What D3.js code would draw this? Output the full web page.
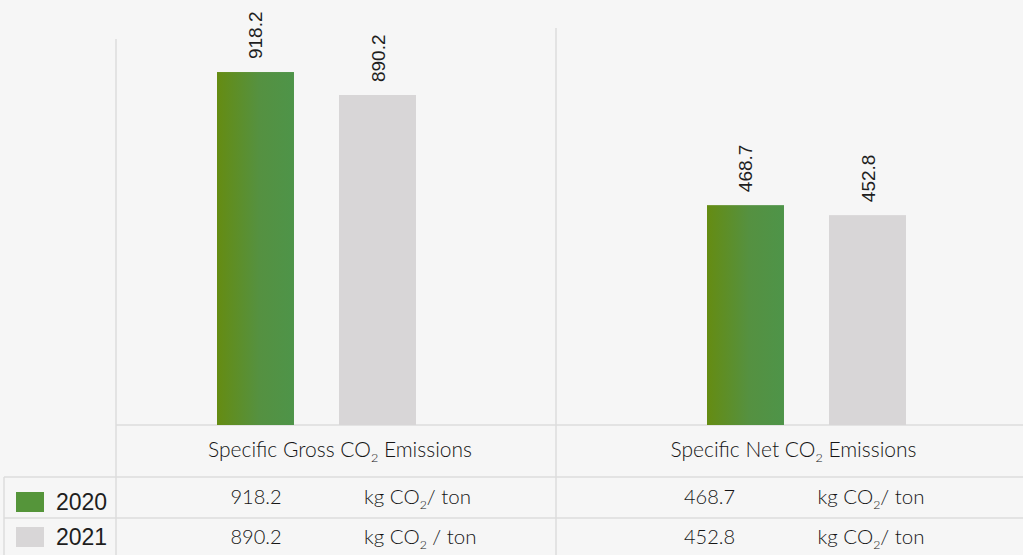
<!DOCTYPE html>
<html>
<head>
<meta charset="utf-8">
<script src="https://cdn.jsdelivr.net/npm/d3@7/dist/d3.min.js"></script>
<style>
  html, body { margin: 0; padding: 0; background: #f6f6f6; }
  svg { display: block; }
</style>
</head>
<body>
<svg id="chart" width="1023" height="555"></svg>
<script>
// ---- data ----
const categories = ["Specific Gross CO2 Emissions", "Specific Net CO2 Emissions"];
const years = ["2020", "2021"];
const values2020 = [918.2, 468.7];
const values2021 = [890.2, 452.8];
const unitLabels2020 = ["kg CO2/ ton", "kg CO2/ ton"];
const unitLabels2021 = ["kg CO2 / ton", "kg CO2/ ton"];
// each category panel has its own value axis (lower bound, upper bound)
const axisMin = [488, 119];
const axisMax = [1006, 795];

const series = [
  { year: years[0], values: values2020, units: unitLabels2020 },
  { year: years[1], values: values2021, units: unitLabels2021 }
];

// ---- layout ----
const W = 1023, H = 555;
const baseY = 425;                 // bottom of the bar area
const colEdges = [116, 556, 1023]; // table column boundaries
const rowEdges = [425, 477, 518, 555];

const svg = d3.select("#chart");

// soft green gradient for the 2020 bars
const defs = svg.append("defs");
const grad = defs.append("linearGradient").attr("id", "greenGrad")
  .attr("x1", "0%").attr("x2", "100%").attr("y1", "0%").attr("y2", "0%");
grad.append("stop").attr("offset", "0%").attr("stop-color", "#658c12");
grad.append("stop").attr("offset", "55%").attr("stop-color", "#559141");
grad.append("stop").attr("offset", "100%").attr("stop-color", "#4e9449");

const fills = { "2020": "url(#greenGrad)", "2021": "#d8d6d7" };
const legendFills = { "2020": "#55953a", "2021": "#d8d6d7" };

// scales
const xGroup = d3.scalePoint().domain(categories).range([316.5, 806.5]);
const xBar = d3.scaleBand().domain(years).range([-99.5, 99.5]).paddingInner(0.369);
const yScales = categories.map((c, i) =>
  d3.scaleLinear().domain([axisMin[i], axisMax[i]]).range([baseY, 0]));

// ---- grid lines ----
const gridColor = "#dddddd";
const grid = svg.append("g").attr("stroke", gridColor).attr("stroke-width", 1.5);
grid.append("line").attr("x1", colEdges[0]).attr("x2", colEdges[0]).attr("y1", 39).attr("y2", H);
grid.append("line").attr("x1", colEdges[1]).attr("x2", colEdges[1]).attr("y1", 28).attr("y2", H);
grid.append("line").attr("x1", colEdges[0]).attr("x2", W).attr("y1", rowEdges[0]).attr("y2", rowEdges[0]);
grid.append("line").attr("x1", 4).attr("x2", W).attr("y1", rowEdges[1]).attr("y2", rowEdges[1]);
grid.append("line").attr("x1", 4).attr("x2", W).attr("y1", rowEdges[2]).attr("y2", rowEdges[2]);
grid.append("line").attr("x1", 4).attr("x2", 4).attr("y1", rowEdges[1]).attr("y2", H);

// ---- bars ----
const groups = svg.append("g").selectAll("g.cat")
  .data(categories)
  .join("g")
  .attr("class", "cat")
  .attr("transform", d => `translate(${xGroup(d)},0)`);

groups.each(function (cat, ci) {
  const g = d3.select(this);
  const y = yScales[ci];
  const rows = series.map(s => ({ year: s.year, value: s.values[ci] }));
  g.selectAll("rect")
    .data(rows)
    .join("rect")
    .attr("x", d => xBar(d.year))
    .attr("width", xBar.bandwidth())
    .attr("y", d => y(d.value))
    .attr("height", d => baseY - y(d.value))
    .attr("fill", d => fills[d.year]);

  g.selectAll("text.val")
    .data(rows)
    .join("text")
    .attr("class", "val")
    .attr("transform", d =>
      `translate(${xBar(d.year) + xBar.bandwidth() / 2 + 7},${y(d.value) - 13}) rotate(-90)`)
    .attr("font-family", "'Liberation Sans', Arial, sans-serif")
    .attr("font-size", 19)
    .attr("fill", "#1e1e1e")
    .text(d => d.value.toFixed(1));
});

// ---- text with CO2 subscript ----
function co2Text(sel, str) {
  const parts = str.split("CO2");
  sel.append("tspan").text(parts[0] + "CO");
  sel.append("tspan").attr("dy", 5).attr("font-size", "0.6em").text("2");
  sel.append("tspan").attr("dy", -5).text(parts[1]);
}

const tableFont = "Lato, 'Open Sans', sans-serif";
const tableInk = "#151515";
const colMid = i => (colEdges[i] + colEdges[i + 1]) / 2;

// category header row
categories.forEach((c, i) => {
  const t = svg.append("text")
    .attr("x", colMid(i) + 4)
    .attr("y", 457)
    .attr("text-anchor", "middle")
    .attr("font-family", tableFont)
    .attr("font-weight", 300)
    .attr("font-size", 21)
    .attr("fill", tableInk);
  co2Text(t, c);
});

// value rows with legend
const rowBase = [504, 544];
const legendBase = [510, 545];
series.forEach((s, ri) => {
  svg.append("rect")
    .attr("x", 16).attr("y", legendBase[ri] - 18)
    .attr("width", 28).attr("height", 20)
    .attr("fill", legendFills[s.year]);
  svg.append("text")
    .attr("x", 56).attr("y", legendBase[ri])
    .attr("font-family", "'Liberation Sans', Arial, sans-serif")
    .attr("font-size", 23)
    .attr("fill", "#1e1e1e")
    .text(s.year);

  categories.forEach((c, ci) => {
    svg.append("text")
      .attr("x", colMid(ci) - 80)
      .attr("y", rowBase[ri])
      .attr("text-anchor", "middle")
      .attr("font-family", tableFont)
      .attr("font-weight", 300)
      .attr("font-size", 20)
      .attr("fill", tableInk)
      .text(s.values[ci].toFixed(1));
    const u = svg.append("text")
      .attr("x", colMid(ci) + 28)
      .attr("y", rowBase[ri])
      .attr("font-family", tableFont)
      .attr("font-weight", 300)
      .attr("font-size", 20.5)
      .attr("fill", tableInk);
    co2Text(u, s.units[ci]);
  });
});
</script>
</body>
</html>
